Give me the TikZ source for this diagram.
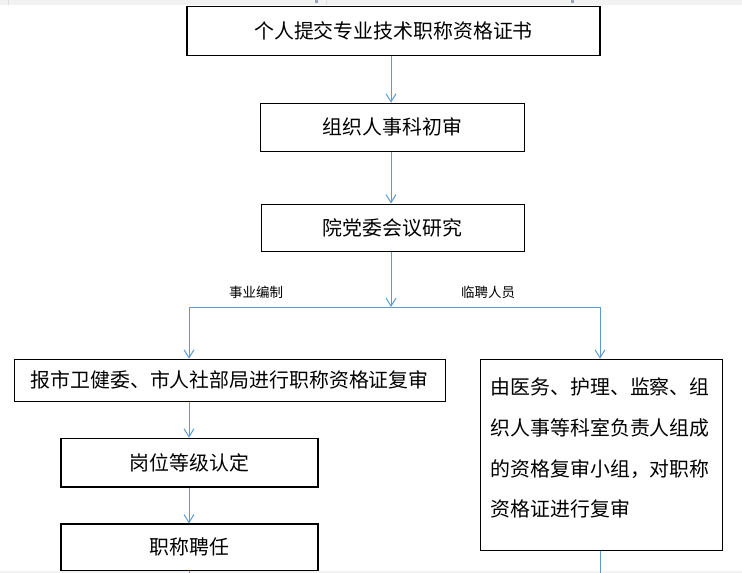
\documentclass[tikz,border=0pt]{standalone}
\usepackage{fontspec}
\setmainfont{Noto Sans CJK SC}
\usetikzlibrary{arrows.meta}
\definecolor{arrowblue}{HTML}{5B9BD5}
\definecolor{bandgray}{HTML}{F2F2F2}
\definecolor{markgray}{HTML}{9AA6C0}
\tikzset{
  box/.style={draw=black, line width=1.2pt, rectangle, inner sep=0pt, font={\fontsize{19.9}{24}\selectfont}},
  flow/.style={draw=arrowblue, line width=1pt, -{Straight Barb[length=8pt,width=10pt,line width=1pt]}},
  plain/.style={draw=arrowblue, line width=1pt},
  lbl/.style={inner sep=0pt, font={\fontsize{13.5}{16}\selectfont}}
}
\begin{document}
\begin{tikzpicture}[x=1pt,y=-1pt]
\useasboundingbox (0,0) rectangle (742,573);
% page edge bands
\fill[bandgray] (0,0) rectangle (742,5);
\fill[markgray] (315,0) rectangle (318,2.5);
\fill[markgray] (571,0) rectangle (574,2.5);
\fill[gray!25] (325.5,0) rectangle (326.3,5);
\fill[gray!25] (8,0) rectangle (8.8,5);
\fill[bandgray] (0,571) rectangle (742,573);

% boxes
\node[box, minimum width=413pt, minimum height=49pt] (b1) at (393.5,30.7) {个人提交专业技术职称资格证书};
\node[box, minimum width=264pt, minimum height=48pt] (b2) at (392.3,127.3) {组织人事科初审};
\node[box, minimum width=263pt, minimum height=47pt] (b3) at (392.6,227.6) {院党委会议研究};
\node[box, minimum width=431pt, minimum height=42pt] (b4) at (229.7,380.3) {报市卫健委、市人社部局进行职称资格证复审};
\node[box, minimum width=257pt, minimum height=48.7pt] (b5) at (189.5,462.6) {岗位等级认定};
\node[box, minimum width=257pt, minimum height=46.3pt] (b6) at (189.5,547.2) {职称聘任};
\node[box, minimum width=242pt, minimum height=191pt] (b7) at (601.5,454.8) {};
\node[anchor=north west, inner sep=0pt, align=left, font={\fontsize{19.9}{40.8}\selectfont}] (b7t) at (490.5,365.7)
  {\strut 由医务、护理、监察、组\\织人事等科室负责人组成\\的资格复审小组，对职称\\资格证进行复审};

% labels
\node[lbl] (l1) at (256,292) {事业编制};
\node[lbl] (l2) at (488,292) {临聘人员};

% connector coordinates
\coordinate (cm) at (391,0);
\coordinate (cl) at (189,0);
\coordinate (cr) at (600,0);
\coordinate (jn) at (391,307);
\coordinate (jl) at (189,307);
\coordinate (jr) at (600,307);
\coordinate (e1) at (189,573);
\coordinate (e2) at (600,573);

% connectors
\draw[flow] (b1.south -| cm) -- (b2.north -| cm);
\draw[flow] (b2.south -| cm) -- (b3.north -| cm);
\draw[flow] (b3.south -| cm) -- (jn);
\draw[plain] (jl) -- (jr);
\draw[flow] (jl) -- (b4.north -| jl);
\draw[flow] (jr) -- (b7.north -| jr);
\draw[flow] (b4.south -| cl) -- (b5.north -| cl);
\draw[flow] (b5.south -| cl) -- (b6.north -| cl);
\draw[plain] (b6.south -| cl) -- (e1);
\draw[plain] (b7.south -| cr) -- (e2);
\end{tikzpicture}
\end{document}
